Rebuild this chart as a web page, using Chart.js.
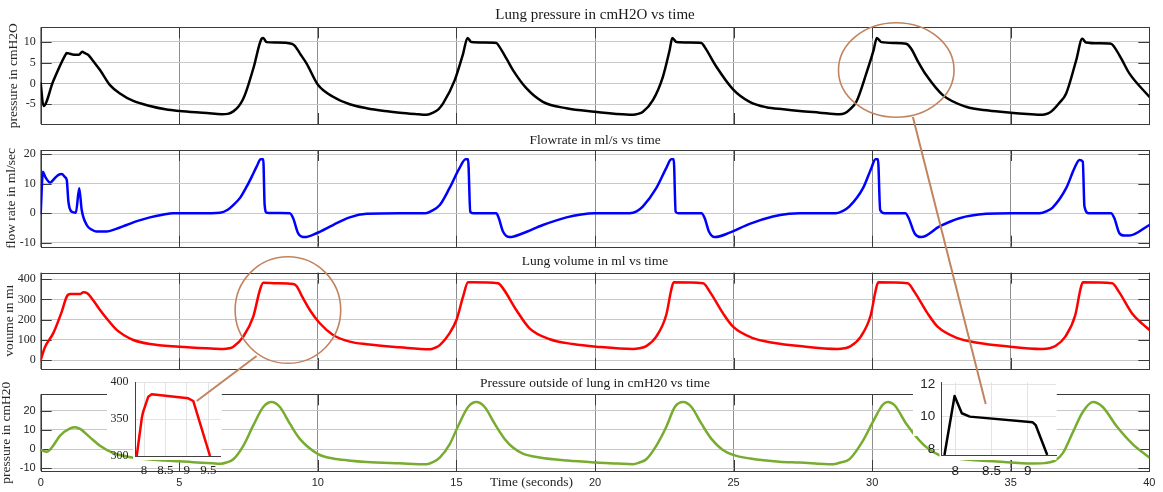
<!DOCTYPE html>
<html><head><meta charset="utf-8"><title>Lung model</title>
<script src="https://cdn.jsdelivr.net/npm/chart.js@4.4.1/dist/chart.umd.min.js"></script>
<style>
html,body{margin:0;padding:0;background:#fff;overflow:hidden}
#wrap{position:relative;width:1163px;height:492px;background:#fff}
#wrap canvas{position:absolute;left:0;top:0}
</style></head>
<body><div id="wrap">
<canvas id="cPressure" width="1163" height="492"></canvas>
<canvas id="cFlow" width="1163" height="492"></canvas>
<canvas id="cVolume" width="1163" height="492"></canvas>
<canvas id="cOutside" width="1163" height="492"></canvas>
<canvas id="cInsetVolume" width="1163" height="492"></canvas>
<canvas id="cInsetPressure" width="1163" height="492"></canvas>
</div>
<script>
// ---------------- DATA ----------------
const timeTicks = [0, 5, 10, 15, 20, 25, 30, 35, 40];
const pressureTicks = [-5, 0, 5, 10];
const flowTicks = [-10, 0, 10, 20];
const volumeTicks = [0, 100, 200, 300, 400];
const outsideTicks = [-10, 0, 10, 20];
const insetVolumeXTicks = [8, 8.5, 9, 9.5];
const insetVolumeYTicks = [300, 350, 400];
const insetPressureXTicks = [8, 8.5, 9];
const insetPressureYTicks = [8, 10, 12];

// [time s, lung pressure cmH2O]
const lungPressure = [[0,0],[0.1,-5.4],[0.45,0.5],[0.88,6.7],[0.94,7.3],[1.05,7.1],[1.2,6.9],[1.38,6.9],[1.5,7.6],[1.58,7.3],[1.72,6.8],[1.9,5.3],[2.14,3.2],[2.5,-0.4],[2.86,-2.4],[3.34,-4.2],[3.94,-5.4],[4.5,-6.2],[5.0,-6.6],[6.0,-7.1],[6.53,-7.4],[6.75,-7.3],[6.95,-6.7],[7.13,-5.6],[7.3,-3.8],[7.43,-1.6],[7.69,4.0],[7.97,10.7],[8.03,10.9],[8.15,9.9],[8.5,9.8],[9.05,9.5],[9.17,9.0],[9.35,7.2],[9.59,4.8],[10.01,-0.4],[10.55,-3.2],[11.15,-5.0],[11.76,-5.95],[12.4,-6.6],[12.96,-7.0],[13.5,-7.3],[13.92,-7.5],[14.16,-7.0],[14.35,-6.2],[14.52,-4.8],[14.94,0.8],[15.24,7.1],[15.4,10.9],[15.54,9.9],[16.0,9.8],[16.44,9.7],[16.56,8.7],[16.8,6.0],[17.04,3.2],[17.53,-1.2],[18.12,-4.4],[18.97,-5.95],[19.99,-6.8],[20.77,-7.3],[21.37,-7.5],[21.55,-7.3],[21.73,-6.8],[22.09,-4.0],[22.45,1.6],[22.69,7.9],[22.79,10.9],[22.94,9.9],[23.4,9.8],[23.84,9.7],[23.96,8.7],[24.38,4.0],[24.98,-1.4],[25.58,-4.4],[26.18,-5.7],[26.8,-6.2],[27.38,-6.6],[28.1,-7.0],[28.82,-7.4],[29.0,-7.2],[29.2,-6.2],[29.43,-4.4],[29.79,2.4],[30.05,7.9],[30.17,10.9],[30.33,9.9],[30.8,9.7],[31.23,9.5],[31.41,8.3],[31.65,5.3],[31.95,2.0],[32.55,-2.8],[33.39,-5.6],[34.2,-6.5],[35.0,-7.0],[35.6,-7.3],[36.16,-7.5],[36.35,-7.2],[36.52,-6.4],[36.75,-4.7],[37.0,-2.4],[37.36,5.5],[37.58,10.7],[37.72,9.8],[38.2,9.6],[38.62,9.5],[38.74,8.7],[39.0,5.8],[39.28,2.4],[40.0,-3.2]];

// [time s, flow rate ml/s]
const flowRate = [[0,0],[0.08,14.1],[0.16,12.4],[0.34,10.4],[0.5,11.8],[0.64,13.0],[0.76,13.3],[0.88,12.2],[0.94,11.3],[1.0,3.9],[1.12,0.5],[1.27,0.2],[1.39,8.5],[1.48,1.1],[1.66,-4.0],[1.85,-5.6],[2.02,-6.2],[2.38,-6.2],[2.7,-5.4],[3.1,-4.0],[3.5,-2.6],[3.94,-1.4],[4.4,-0.5],[4.78,0],[5.74,0],[6.47,0.2],[6.75,1.2],[6.95,2.8],[7.2,5.3],[7.43,9.0],[7.62,12.5],[7.79,15.8],[7.94,18.3],[8.03,18.3],[8.08,2.8],[8.15,0.2],[8.99,0],[9.11,-1.7],[9.29,-6.8],[9.53,-8.1],[9.95,-6.8],[10.55,-4.0],[11.15,-1.4],[11.76,-0.2],[12.96,0],[13.89,0],[14.1,0.8],[14.4,2.8],[14.75,8.5],[15.11,15.3],[15.33,18.3],[15.42,18.3],[15.5,0.5],[15.6,0],[16.44,0],[16.53,-1.7],[16.68,-6.2],[16.92,-8.1],[17.4,-6.8],[18.12,-4.0],[18.97,-1.4],[19.5,-0.4],[19.99,0],[21.25,0],[21.5,0.6],[21.73,2.3],[22.21,8.5],[22.57,15.3],[22.75,18.3],[22.84,18.3],[22.91,0.5],[23.0,0],[23.84,0],[23.96,-1.7],[24.11,-6.2],[24.32,-8.1],[24.86,-6.6],[25.58,-3.6],[26.42,-1.1],[27.0,-0.2],[27.38,0],[28.7,0],[28.95,0.8],[29.18,2.3],[29.67,8.5],[29.97,15.3],[30.12,18.3],[30.21,18.3],[30.29,1.1],[30.45,0],[31.2,0],[31.32,-1.7],[31.53,-6.8],[31.77,-8.1],[32.43,-4.5],[33.15,-1.7],[34.11,-0.2],[35.0,0],[36.04,0],[36.3,0.7],[36.52,2.0],[37.0,8.5],[37.3,15.3],[37.48,18.1],[37.6,17.5],[37.66,2.3],[37.82,0],[38.62,0],[38.74,-1.7],[38.92,-6.8],[39.1,-7.6],[39.28,-7.6],[40,-4.0]];

// [time s, lung volume ml]
const lungVolume = [[0,0],[0.16,66],[0.45,132],[0.76,240],[0.94,314],[1.06,327],[1.42,327],[1.54,336],[1.68,331],[1.9,295],[2.14,248],[2.44,196],[2.74,149],[3.04,120],[3.34,99],[3.94,79],[5.0,66],[5.99,58],[6.59,54.5],[6.8,58],[6.95,66],[7.31,116],[7.67,215],[7.91,347],[8.03,383],[8.51,380],[9.11,377],[9.23,367],[9.45,310],[9.71,248],[10.07,182],[10.55,124],[11.15,91],[11.76,78],[12.96,63],[14.04,53],[14.22,60],[14.4,74],[14.75,132],[15.0,198],[15.24,314],[15.42,385],[15.6,385],[16.5,380],[16.68,355],[17.16,248],[17.64,157],[18.37,103],[19.21,79],[20.05,66],[21.37,54.5],[21.6,58],[21.85,69],[22.21,116],[22.57,223],[22.75,347],[22.84,385],[23.9,380],[24.14,339],[24.62,231],[24.98,165],[25.7,108],[26.42,86],[27.38,69],[28.75,54.5],[29.0,58],[29.23,69],[29.59,116],[29.95,223],[30.13,347],[30.22,385],[31.28,380],[31.52,339],[32.0,231],[32.36,165],[33.08,108],[33.8,86],[34.76,69],[36.13,54.5],[36.4,58],[36.61,69],[36.97,116],[37.33,223],[37.51,347],[37.6,385],[38.66,380],[38.9,339],[39.38,231],[39.74,180],[40,150]];

// [time s, pressure outside lung cmH2O]
const outsidePressure = [[0,-0.4],[0.22,-1.4],[0.4,0.8],[0.7,7],[1.06,10.8],[1.24,11.4],[1.42,10.5],[1.78,6.1],[2.14,1.7],[2.62,-2.1],[2.98,-3.5],[3.5,-4.8],[4.5,-6.0],[5.5,-6.8],[6.2,-7.4],[6.49,-7.6],[6.7,-7.0],[6.95,-5.3],[7.31,1.7],[7.67,12.3],[8.03,21.9],[8.33,24.5],[8.63,21.9],[8.99,13.2],[9.35,5.3],[10.01,-2.6],[10.55,-4.9],[11.1,-5.9],[11.76,-6.7],[12.96,-7.4],[13.92,-7.9],[14.15,-6.8],[14.4,-4.4],[14.76,2.6],[15.07,12.3],[15.42,21.9],[15.72,24.5],[16.02,21.9],[16.38,13.2],[16.74,5.3],[17.04,0.8],[17.4,-2.4],[18.0,-4.4],[19.0,-6.0],[20.05,-7.0],[20.8,-7.5],[21.37,-7.9],[21.6,-7.0],[21.85,-5.3],[22.21,1.7],[22.57,11.5],[22.88,21.9],[23.18,24.5],[23.48,21.9],[23.84,13.2],[24.2,5.3],[24.6,-0.3],[24.98,-3.0],[25.6,-4.9],[26.66,-6.6],[27.38,-7.0],[28.58,-7.9],[28.85,-7.0],[29.18,-5.3],[29.67,4.4],[30.02,14],[30.39,23.2],[30.57,24.5],[30.81,22.8],[31.23,13.2],[31.71,4.4],[32.0,0.5],[32.43,-3.2],[33.2,-5.2],[34.5,-6.5],[35.8,-7.5],[36.2,-7.3],[36.61,-5.9],[36.88,-2.1],[37.24,8.7],[37.6,19.3],[37.96,24.5],[38.32,21.9],[38.8,12.3],[39.4,2.6],[40.0,-4.4]];

// zoomed insets
const insetVolume = [[7.83,300],[7.95,352],[7.98,360],[8.1,380.5],[8.18,383.7],[9.03,378.3],[9.15,374.6],[9.54,300]];
const insetPressure = [[7.85,7.63],[7.99,11.27],[8.09,10.21],[8.2,10.0],[9.07,9.65],[9.11,9.48],[9.27,7.63]];

// ---------------- STYLE / LAYOUT ----------------
const W = 1163, H = 492;
const PLOT_LEFT = 40.7, PLOT_RIGHT = 1149.3;
const SERIF = "'Liberation Serif', 'DejaVu Serif', serif";
const SANS = "'Liberation Sans', 'DejaVu Sans', sans-serif";
const TEXT = '#262626';
const VGRID = '#8e8e8e', HGRID = '#c8c8c8';
const FRAME = '#3a3a3a';
const ANNOT = '#c1845f';

function framePlugin() {
  return {
    id: 'frame',
    beforeDatasetsDraw(chart) {
      const {ctx, chartArea: a, scales: {x, y}} = chart;
      const L = 11;
      ctx.save();
      ctx.lineWidth = 1;
      ctx.strokeStyle = FRAME;
      ctx.beginPath();
      y.ticks.forEach(t => {
        const py = Math.round(y.getPixelForValue(t.value)) + 0.5;
        ctx.moveTo(a.left, py); ctx.lineTo(a.left + L, py);
        ctx.moveTo(a.right - L, py); ctx.lineTo(a.right, py);
      });
      x.ticks.forEach(t => {
        const px = Math.round(x.getPixelForValue(t.value)) + 0.5;
        ctx.moveTo(px, a.top); ctx.lineTo(px, a.top + L);
        ctx.moveTo(px, a.bottom - L); ctx.lineTo(px, a.bottom);
      });
      ctx.stroke();
      const l = Math.round(a.left) + 0.5, t = Math.round(a.top) + 0.5;
      ctx.strokeRect(l, t, Math.round(a.right) - Math.round(a.left), Math.round(a.bottom) - Math.round(a.top));
      ctx.restore();
    }
  };
}

function textPlugin(items) {
  return {
    id: 'texts',
    afterDraw(chart) {
      const ctx = chart.ctx;
      items.forEach(it => {
        ctx.save();
        if (it.clipLeft) { ctx.beginPath(); ctx.rect(it.clipLeft, 0, W, H); ctx.clip(); }
        const px = it.xVal !== undefined ? chart.scales.x.getPixelForValue(it.xVal) : it.x;
        ctx.translate(px, it.y);
        ctx.rotate(it.rot || 0);
        ctx.font = it.font;
        ctx.fillStyle = TEXT;
        ctx.textAlign = 'center';
        ctx.textBaseline = it.baseline || 'alphabetic';
        ctx.fillText(it.text, 0, 0);
        ctx.restore();
      });
    }
  };
}

function bgPlugin(rects) {
  return {
    id: 'insetBg',
    beforeDraw(chart) {
      const ctx = chart.ctx;
      ctx.save();
      ctx.fillStyle = '#ffffff';
      rects.forEach(r => ctx.fillRect(r[0], r[1], r[2], r[3]));
      ctx.restore();
    }
  };
}

const panels = [
  { id: 'cPressure', series: lungPressure, color: '#000000', top: 27.3, bottom: 124, titleY: 15.5, titleSize: 15,
    title: 'Lung pressure in cmH2O vs time', yMin: -9.72, yMax: 13.45, yTicks: pressureTicks,
    ylabel: 'pressure in cmH2O', labelX: 16.7, clipX: 0, tickFont: { family: SERIF, size: 12 } },
  { id: 'cFlow', series: flowRate, color: '#0000ff', top: 150, bottom: 246.7, titleY: 140.5, titleSize: 13.5,
    title: 'Flowrate in ml/s vs time', yMin: -11.36, yMax: 21.46, yTicks: flowTicks,
    ylabel: 'flow rate in ml/sec', labelX: 15, clipX: 5.5, tickFont: { family: SERIF, size: 12 } },
  { id: 'cVolume', series: lungVolume, color: '#ff0000', top: 272.7, bottom: 369, titleY: 261, titleSize: 13.5,
    title: 'Lung volume in ml vs time', yMin: -44.6, yMax: 432.7, yTicks: volumeTicks,
    ylabel: 'volume in ml', labelX: 13.3, clipX: 7, tickFont: { family: SERIF, size: 12 } },
  { id: 'cOutside', series: outsidePressure, color: '#77ac30', top: 394.3, bottom: 471, titleY: 383, titleSize: 13.5,
    title: 'Pressure outside of lung in cmH20 vs time', yMin: -11.4, yMax: 28.5, yTicks: outsideTicks,
    ylabel: 'pressure in cmH20', labelX: 9.5, clipX: 0, tickFont: { family: SANS, size: 11 }, showX: true,
    xTitle: 'Time (seconds)', xTitleVal: 17.71, xTitleY: 482 }
];

function panelChart(p) {
  const lh = p.titleSize * 1.2;
  const xh = p.showX ? H - p.bottom : 0;
  const texts = [{ text: p.ylabel, x: p.labelX, y: (p.top + p.bottom) / 2, rot: -Math.PI / 2,
                   font: `13.5px ${SERIF}`, clipLeft: p.clipX }];
  if (p.xTitle) texts.push({ text: p.xTitle, xVal: p.xTitleVal, y: p.xTitleY, font: `13.5px ${SERIF}`, baseline: 'middle' });
  return new Chart(document.getElementById(p.id), {
    type: 'line',
    data: { datasets: [{ data: p.series.map(([x, y]) => ({ x, y })), borderColor: p.color, borderWidth: 2.5,
      pointRadius: 0, fill: false, cubicInterpolationMode: 'monotone', borderJoinStyle: 'round', borderCapStyle: 'round' }] },
    options: {
      responsive: false, animation: false, devicePixelRatio: 1, events: [],
      layout: { padding: { left: 0, right: W - PLOT_RIGHT, top: p.titleY - lh / 2, bottom: H - p.bottom - xh } },
      plugins: {
        legend: { display: false }, tooltip: { enabled: false },
        title: { display: true, text: p.title, fullSize: false, color: '#1a1a1a',
          font: { family: SERIF, size: p.titleSize, weight: 'normal', lineHeight: 1.2 },
          padding: { top: 0, bottom: p.top - p.titleY - lh / 2 } }
      },
      scales: {
        x: { type: 'linear', min: 0, max: 40,
          afterBuildTicks: s => { s.ticks = timeTicks.map(v => ({ value: v })); },
          afterFit: s => { s.height = xh; },
          grid: { color: VGRID, drawTicks: false }, border: { display: false },
          ticks: { display: !!p.showX, autoSkip: false, maxRotation: 0, padding: 5.5, color: TEXT,
            font: { family: SANS, size: 11 }, callback: v => String(v) } },
        y: { type: 'linear', min: p.yMin, max: p.yMax,
          afterBuildTicks: s => { s.ticks = p.yTicks.map(v => ({ value: v })); },
          afterFit: s => { s.width = PLOT_LEFT; },
          grid: { color: HGRID, drawTicks: false }, border: { display: false },
          ticks: { padding: 5, color: TEXT, font: p.tickFont, callback: v => String(v) } }
      }
    },
    plugins: [framePlugin(), textPlugin(texts)]
  });
}

const charts = {};
charts.pressure = panelChart(panels[0]);
charts.flow = panelChart(panels[1]);
charts.volume = panelChart(panels[2]);
charts.outside = panelChart(panels[3]);

const insets = [
  { id: 'cInsetVolume', series: insetVolume, color: '#ff0000', left: 135, right: 220.7, top: 382.3, bottom: 456,
    xMin: 7.79, xMax: 9.789, yMin: 300, yMax: 400, xTicks: insetVolumeXTicks, yTicks: insetVolumeYTicks,
    font: { family: SERIF, size: 12 }, xFont: { family: SERIF, size: 13 }, xPad: 7.2,
    bg: [[107, 374, 114.5, 66], [133, 380, 88.5, 80]] },
  { id: 'cInsetPressure', series: insetPressure, color: '#000000', left: 941.7, right: 1056, top: 382.3, bottom: 455,
    xMin: 7.812, xMax: 9.391, yMin: 7.63, yMax: 12.12, xTicks: insetPressureXTicks, yTicks: insetPressureYTicks,
    font: { family: SANS, size: 13.5 }, xFont: { family: SANS, size: 13.5 }, xPad: 8.2,
    bg: [[913, 376, 143.5, 60], [939.5, 378, 117, 82]] }
];

function annotationPlugin() {
  return {
    id: 'annot',
    afterDraw(chart) {
      const ctx = chart.ctx;
      const pt = (c, x, y) => [c.scales.x.getPixelForValue(x), c.scales.y.getPixelForValue(y)];
      ctx.save();
      ctx.strokeStyle = ANNOT;
      // ellipse on lung pressure (cycle 4)
      const p = charts.pressure;
      const [c1x, c1y] = pt(p, 30.87, 3.22);
      const r1x = p.scales.x.getPixelForValue(30.87 + 2.085) - c1x;
      const r1y = c1y - p.scales.y.getPixelForValue(3.22 + 11.33);
      ctx.lineWidth = 1.6;
      ctx.beginPath(); ctx.ellipse(c1x, c1y, r1x, r1y, 0, 0, Math.PI * 2); ctx.stroke();
      // ellipse on lung volume (cycle 1)
      const v = charts.volume;
      const [c2x, c2y] = pt(v, 8.92, 247.8);
      const r2x = v.scales.x.getPixelForValue(8.92 + 1.905) - c2x;
      const r2y = c2y - v.scales.y.getPixelForValue(247.8 + 264.2);
      ctx.beginPath(); ctx.ellipse(c2x, c2y, r2x, r2y, 0, 0, Math.PI * 2); ctx.stroke();
      // connectors
      ctx.lineWidth = 2;
      const a1 = pt(p, 31.47, -8.04), b1 = pt(chart, 8.42, 10.78);
      ctx.beginPath(); ctx.moveTo(a1[0], a1[1]); ctx.lineTo(b1[0], b1[1]); ctx.stroke();
      const a2 = pt(v, 7.79, 19.8), b2 = pt(charts.insetVolume, 9.23, 374.6);
      ctx.beginPath(); ctx.moveTo(a2[0], a2[1]); ctx.lineTo(b2[0], b2[1]); ctx.stroke();
      ctx.restore();
    }
  };
}

function insetChart(q, extra) {
  const YW = 40, XH = 24;
  return new Chart(document.getElementById(q.id), {
    type: 'line',
    data: { datasets: [{ data: q.series.map(([x, y]) => ({ x, y })), borderColor: q.color, borderWidth: 2.5,
      pointRadius: 0, fill: false, tension: 0, borderJoinStyle: 'round' }] },
    options: {
      responsive: false, animation: false, devicePixelRatio: 1, events: [],
      layout: { padding: { left: q.left - YW, right: W - q.right, top: q.top, bottom: H - q.bottom - XH } },
      plugins: { legend: { display: false }, tooltip: { enabled: false }, title: { display: false } },
      scales: {
        x: { type: 'linear', min: q.xMin, max: q.xMax,
          afterBuildTicks: s => { s.ticks = q.xTicks.map(v => ({ value: v })); },
          afterFit: s => { s.height = XH; },
          grid: { color: '#e3e3e3', drawTicks: false }, border: { display: true, color: '#404040', width: 1 },
          ticks: { autoSkip: false, maxRotation: 0, padding: q.xPad, color: TEXT, font: q.xFont, callback: v => String(v) } },
        y: { type: 'linear', min: q.yMin, max: q.yMax,
          afterBuildTicks: s => { s.ticks = q.yTicks.map(v => ({ value: v })); },
          afterFit: s => { s.width = YW; },
          grid: { color: '#e3e3e3', drawTicks: false }, border: { display: true, color: '#404040', width: 1 },
          ticks: { padding: 6.5, color: TEXT, font: q.font, callback: v => String(v) } }
      }
    },
    plugins: [bgPlugin(q.bg)].concat(extra || [])
  });
}

charts.insetVolume = insetChart(insets[0]);
charts.insetPressure = insetChart(insets[1], [annotationPlugin()]);
</script></body></html>
